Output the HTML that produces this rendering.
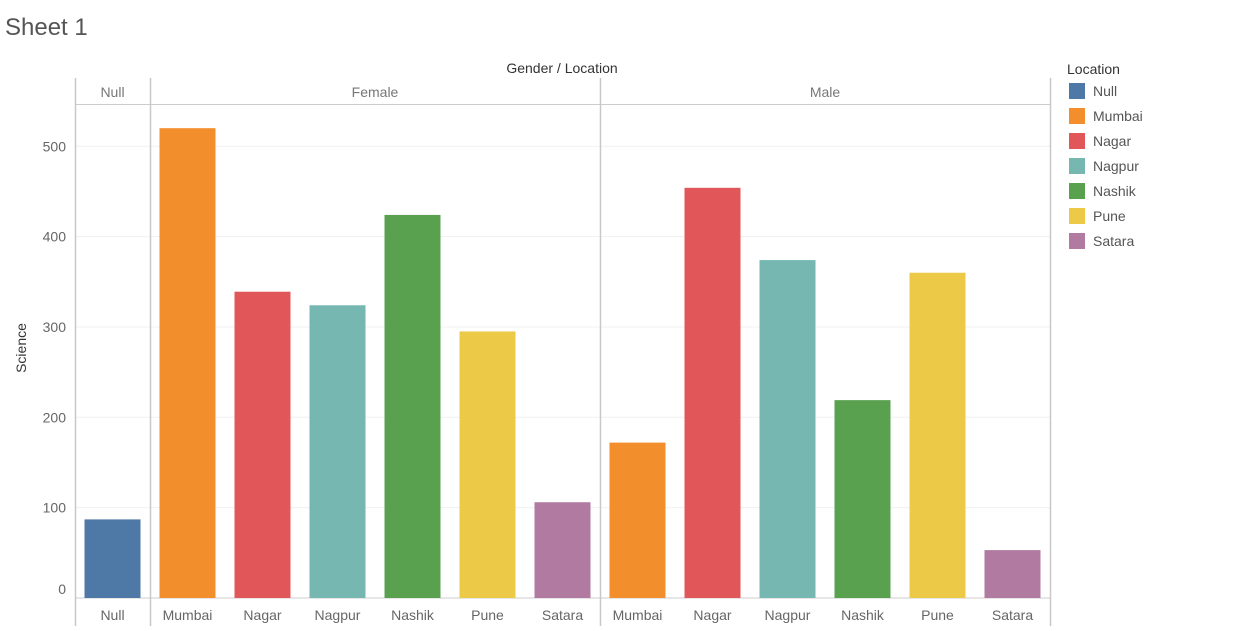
<!DOCTYPE html>
<html><head><meta charset="utf-8"><style>
body{margin:0;background:#fff;font-family:"Liberation Sans",sans-serif;}
svg text{font-family:"Liberation Sans",sans-serif;}
</style></head><body>
<svg id="chart" width="1240" height="626" xmlns="http://www.w3.org/2000/svg">
<text x="5" y="35" font-size="24" fill="#555">Sheet 1</text>
<text x="562" y="73" font-size="14" fill="#333" text-anchor="middle">Gender / Location</text>
<text transform="translate(26,348) rotate(-90)" font-size="14" fill="#333" text-anchor="middle">Science</text>
<g id="grid"></g><g id="bars"></g><g id="frame"></g><g id="legend"></g>
</svg>
<script>
const genders=["Null","Female","Female","Female","Female","Female","Female","Male","Male","Male","Male","Male","Male"];
const locations=["Null","Mumbai","Nagar","Nagpur","Nashik","Pune","Satara","Mumbai","Nagar","Nagpur","Nashik","Pune","Satara"];
const values=[87,520,339,324,424,295,106,172,454,374,219,360,53];
const yTicks=[0,100,200,300,400,500];
const legendItems=["Null","Mumbai","Nagar","Nagpur","Nashik","Pune","Satara"];
const colors={Null:"#4e79a7",Mumbai:"#f28e2b",Nagar:"#e15759",Nagpur:"#76b7b2",Nashik:"#59a14f",Pune:"#edc948",Satara:"#b07aa1"};
const NS="http://www.w3.org/2000/svg";
const x0=75,colW=75,yBase=598,pxPerUnit=0.9035;
const y=v=>yBase-v*pxPerUnit;
const xc=i=>x0+colW*i+colW/2;
function mk(tag,attrs,parent,txt){const e=document.createElementNS(NS,tag);for(const k in attrs)e.setAttribute(k,attrs[k]);if(txt!==undefined)e.textContent=txt;document.getElementById(parent).appendChild(e);return e;}
yTicks.forEach(t=>{
 const g=mk("line",{x1:x0,x2:1050,y1:y(t),y2:y(t),stroke:t===0?"#ccc":"#f0f0f0","stroke-width":1},"grid");
 
 
 const l=mk("text",{x:66,y:t===0?594:y(t)+5,"font-size":14,fill:"#666","text-anchor":"end"},"grid",t);
 
 
});
values.forEach((v,i)=>{
 const r=mk("rect",{x:xc(i)-28,y:y(v),width:56,height:yBase-y(v),fill:colors[locations[i]]},"bars");
 
 
 const t=mk("text",{x:xc(i),y:620,"font-size":14,fill:"#666","text-anchor":"middle"},"bars",locations[i]);
 
 
});
// header groups
const groups=[];genders.forEach((g,i)=>{if(!groups.length||groups[groups.length-1].g!==g)groups.push({g,s:i,e:i});else groups[groups.length-1].e=i;});
mk("line",{x1:x0,x2:1050,y1:104.5,y2:104.5,stroke:"#ccc"},"frame");
groups.forEach(gr=>{
 const xs=x0+gr.s*colW,xe=x0+(gr.e+1)*colW;
 const t=mk("text",{x:(xs+xe)/2,y:97,"font-size":14,fill:"#777","text-anchor":"middle"},"frame",gr.g);
 
 
});
const divs=[x0];groups.forEach(gr=>divs.push(x0+(gr.e+1)*colW));
divs.forEach(d=>{const l=mk("line",{x1:d+0.5,x2:d+0.5,y1:78,y2:626,stroke:"#c8c8c8","stroke-width":1.5},"frame");
 
 });
const lt=mk("text",{x:1067,y:74,"font-size":14,fill:"#333"},"legend","Location");


legendItems.forEach((n,i)=>{
 const yy=83+i*25;
 const s=mk("rect",{x:1069,y:yy,width:16,height:16,fill:colors[n]},"legend");
 
 
 const t=mk("text",{x:1093,y:yy+13,"font-size":14,fill:"#555"},"legend",n);
 
 
});
</script>
</body></html>
